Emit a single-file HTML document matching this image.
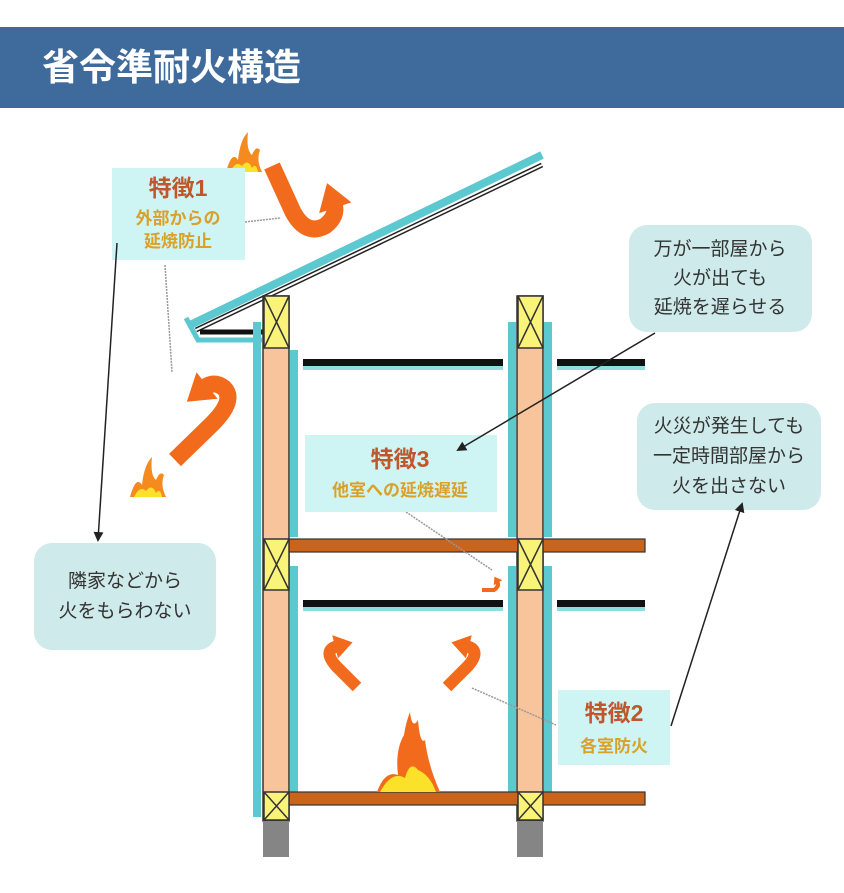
<!DOCTYPE html>
<html><head><meta charset="utf-8"><style>
html,body{margin:0;padding:0;background:#fff;}
svg{display:block;}
text{font-family:"Liberation Sans","Noto Sans CJK JP",sans-serif;}
</style></head><body>
<svg width="844" height="893" viewBox="0 0 844 893" xmlns="http://www.w3.org/2000/svg">
<rect x="0" y="27" width="844" height="81" fill="#3f6b9c"/>
<text x="42" y="80" font-size="37" font-weight="bold" fill="#fff">省令準耐火構造</text>

<defs>
<marker id="ah" markerWidth="10" markerHeight="10" refX="8" refY="5" orient="auto" markerUnits="userSpaceOnUse"><path d="M0,0 L10,5 L0,10 Z" fill="#222"/></marker>
<marker id="oh" markerWidth="30" markerHeight="34" refX="4" refY="17" orient="auto" markerUnits="userSpaceOnUse"><path d="M0,0 L26,17 L0,34 Z" fill="#f26a1b"/></marker>
<marker id="oh2" markerWidth="20" markerHeight="24" refX="3" refY="12" orient="auto" markerUnits="userSpaceOnUse"><path d="M0,0 L18,12 L0,24 Z" fill="#f26a1b"/></marker>
<marker id="oh3" markerWidth="8" markerHeight="10" refX="2" refY="5" orient="auto" markerUnits="userSpaceOnUse"><path d="M0,0 L7,5 L0,10 Z" fill="#f26a1b"/></marker>
</defs>

<line x1="188" y1="326" x2="542" y2="155" stroke="#5cc8cf" stroke-width="8"/>
<line x1="196" y1="330" x2="542" y2="165" stroke="#222" stroke-width="5"/>
<line x1="196" y1="330" x2="542" y2="165" stroke="#fff" stroke-width="2"/>
<path d="M186,318 L198,340 L262,340" fill="none" stroke="#5cc8cf" stroke-width="5"/>
<line x1="200" y1="332" x2="263" y2="332" stroke="#111" stroke-width="5"/>

<rect x="253" y="322" width="8" height="495" fill="#5cc8cf"/>
<rect x="290" y="350" width="8" height="187" fill="#5cc8cf"/>
<rect x="290" y="566" width="8" height="226" fill="#5cc8cf"/>
<rect x="508" y="322" width="8" height="215" fill="#5cc8cf"/>
<rect x="544" y="322" width="8" height="215" fill="#5cc8cf"/>
<rect x="508" y="566" width="8" height="226" fill="#5cc8cf"/>
<rect x="544" y="566" width="8" height="226" fill="#5cc8cf"/>

<g stroke="#333" stroke-width="1.5">
<rect x="263" y="296" width="26" height="525" fill="#f7c49c"/>
<rect x="517" y="296" width="26" height="525" fill="#f7c49c"/>
<rect x="263" y="821" width="26" height="36" fill="#858585" stroke="none"/>
<rect x="517" y="821" width="26" height="36" fill="#858585" stroke="none"/>
</g>
<rect x="303" y="359" width="200" height="7" fill="#111"/><rect x="303" y="366" width="200" height="4" fill="#8fdde0"/>
<rect x="557" y="359" width="88" height="7" fill="#111"/><rect x="557" y="366" width="88" height="4" fill="#8fdde0"/>
<rect x="303" y="600" width="200" height="7" fill="#111"/><rect x="303" y="607" width="200" height="4" fill="#8fdde0"/>
<rect x="557" y="600" width="88" height="7" fill="#111"/><rect x="557" y="607" width="88" height="4" fill="#8fdde0"/>
<rect x="289" y="539" width="356" height="13" fill="#c8641b" stroke="#333" stroke-width="1.2"/>
<rect x="289" y="792" width="356" height="13" fill="#c8641b" stroke="#333" stroke-width="1.2"/>

<g fill="#f9f37a" stroke="#333" stroke-width="1.5">
<rect x="264" y="296" width="25" height="52"/><path d="M264,296 L289,348 M289,296 L264,348"/>
<rect x="518" y="296" width="25" height="52"/><path d="M518,296 L543,348 M543,296 L518,348"/>
<rect x="264" y="539" width="25" height="51"/><path d="M264,539 L289,590 M289,539 L264,590"/>
<rect x="518" y="539" width="25" height="51"/><path d="M518,539 L543,590 M543,539 L518,590"/>
<rect x="264" y="792" width="25" height="28"/><path d="M264,792 L289,820 M289,792 L264,820"/>
<rect x="518" y="792" width="25" height="28"/><path d="M518,792 L543,820 M543,792 L518,820"/>
</g>

<g fill="none" stroke="#f26a1b" stroke-width="17" stroke-linecap="butt">
<path d="M272,166 L293,212 Q306,236 325,226 Q338,216 334,204" marker-end="url(#oh)"/>
<path d="M175,460 L212,424 Q236,400 224,388 Q214,380 204,388" marker-end="url(#oh)"/>
<path d="M357,687 L336,666 Q322,650 338,646" stroke-width="12" marker-end="url(#oh2)"/>
<path d="M447,687 L468,666 Q482,650 466,646" stroke-width="12" marker-end="url(#oh2)"/>
<path d="M482,590 L494,590 Q500,586 497,581" stroke-width="4" marker-end="url(#oh3)"/>
</g>

<g>
<path d="M226,172 Q232,150 238,160 Q240,140 248,132 Q246,150 252,155 Q256,145 260,150 Q256,160 262,172 Z" fill="#f58a1f"/>
<path d="M230,172 Q236,160 242,166 Q248,158 252,168 Q256,162 258,172 Z" fill="#fbe12a"/>
<path d="M130,497 Q136,475 142,485 Q144,465 152,457 Q150,475 156,480 Q160,470 164,475 Q160,485 166,497 Z" fill="#f58a1f"/>
<path d="M134,497 Q140,485 146,491 Q152,483 156,493 Q160,487 162,497 Z" fill="#fbe12a"/>
<path d="M377,792 Q385,770 398,775 Q395,750 404,735 Q406,722 410,712 Q412,730 418,720 Q420,745 425,740 Q428,765 440,792 Z" fill="#f26a1b"/>
<path d="M380,792 Q392,770 405,778 Q410,760 418,770 Q430,775 436,792 Z" fill="#fbe12a"/>
</g>

<g stroke="#999" stroke-width="1.5" stroke-dasharray="2,1" fill="none">
<line x1="245" y1="222" x2="280" y2="218"/>
<line x1="165" y1="265" x2="172" y2="372"/>
<line x1="406" y1="512" x2="492" y2="570"/>
<line x1="472" y1="688" x2="556" y2="725"/>
</g>

<rect x="112" y="168" width="133" height="92" fill="#cff4f4"/>
<text x="178" y="196" font-size="23" font-weight="bold" fill="#c0562b" text-anchor="middle">特徴1</text>
<text x="178" y="224" font-size="17" font-weight="bold" fill="#d9a12a" text-anchor="middle">外部からの</text>
<text x="178" y="247" font-size="17" font-weight="bold" fill="#d9a12a" text-anchor="middle">延焼防止</text>

<rect x="305" y="435" width="192" height="77" fill="#cff4f4"/>
<text x="400" y="467" font-size="23" font-weight="bold" fill="#c0562b" text-anchor="middle">特徴3</text>
<text x="400" y="496" font-size="17" font-weight="bold" fill="#d9a12a" text-anchor="middle">他室への延焼遅延</text>

<rect x="558" y="690" width="112" height="75" fill="#cff4f4"/>
<text x="614" y="721" font-size="23" font-weight="bold" fill="#c0562b" text-anchor="middle">特徴2</text>
<text x="614" y="752" font-size="17" font-weight="bold" fill="#d9a12a" text-anchor="middle">各室防火</text>

<g fill="#cfeaea">
<rect x="629" y="225" width="183" height="107" rx="18"/>
<rect x="637" y="403" width="184" height="107" rx="18"/>
<rect x="34" y="543" width="182" height="107" rx="18"/>
</g>
<g font-size="19" fill="#333" text-anchor="middle">
<text x="720" y="255">万が一部屋から</text>
<text x="720" y="284">火が出ても</text>
<text x="720" y="313">延焼を遅らせる</text>
<text x="729" y="432">火災が発生しても</text>
<text x="729" y="462">一定時間部屋から</text>
<text x="729" y="492">火を出さない</text>
<text x="125" y="587">隣家などから</text>
<text x="125" y="617">火をもらわない</text>
</g>

<g stroke="#222" stroke-width="1.5" fill="none">
<line x1="117" y1="243" x2="98" y2="540" marker-end="url(#ah)"/>
<line x1="655" y1="333" x2="458" y2="450" marker-end="url(#ah)"/>
<line x1="671" y1="726" x2="742" y2="504" marker-end="url(#ah)"/>
</g>
</svg>
</body></html>
